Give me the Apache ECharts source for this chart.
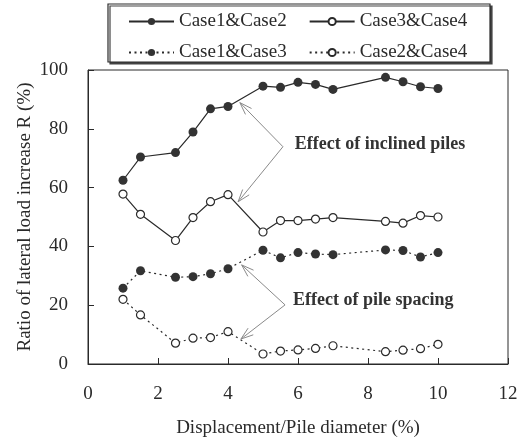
<!DOCTYPE html>
<html>
<head>
<meta charset="utf-8">
<script src="https://cdn.jsdelivr.net/npm/echarts@6/dist/echarts.min.js"></script>
<style>
  html, body { margin: 0; padding: 0; background: #fff; }
  #chart { width: 528px; height: 439px; }
</style>
</head>
<body>
<div id="chart"></div>
<script>
// Displacement / pile diameter (%)
const displacement = [1, 1.5, 2.5, 3, 3.5, 4, 5, 5.5, 6, 6.5, 7, 8.5, 9, 9.5, 10];

// Ratio of lateral load increase R (%)
const case1Case2 = [62.5, 70.4, 71.9, 78.9, 86.8, 87.6, 94.5, 94.1, 95.8, 95.1, 93.4, 97.5, 96.0, 94.3, 93.7];
const case3Case4 = [57.8, 50.9, 42.0, 49.8, 55.2, 57.6, 44.9, 48.8, 48.8, 49.3, 49.8, 48.5, 47.9, 50.5, 50.0];
const case1Case3 = [25.8, 31.7, 29.5, 29.7, 30.7, 32.4, 38.7, 36.1, 37.9, 37.4, 37.2, 38.8, 38.6, 36.4, 37.9];
const case2Case4 = [22.0, 16.7, 7.1, 8.8, 9.0, 11.0, 3.4, 4.4, 4.8, 5.3, 6.2, 4.2, 4.7, 5.2, 6.7];

const seriesNames = ['Case1&Case2', 'Case3&Case4', 'Case1&Case3', 'Case2&Case4'];
const xTicks = [0, 2, 4, 6, 8, 10, 12];
const yTicks = [0, 20, 40, 60, 80, 100];

const FONT = '"Liberation Serif", "Times New Roman", serif';
const INK = '#2a2a2a';

const chart = echarts.init(document.getElementById('chart'), null, { renderer: 'canvas' });

function pairs(ys) {
  return displacement.map((x, i) => [x, ys[i]]);
}

function makeSeries(name, ys, filled, dotted) {
  return {
    name: name,
    type: 'line',
    data: pairs(ys),
    symbol: 'circle',
    symbolSize: filled ? 9 : 8,
    showSymbol: true,
    lineStyle: { color: INK, width: 1.2, type: dotted ? [2, 3.5] : 'solid' },
    itemStyle: {
      color: filled ? '#333' : '#fff',
      borderColor: INK,
      borderWidth: filled ? 0 : 1.2
    },
    emphasis: { disabled: true },
    animation: false,
    z: 3
  };
}

const legendCommon = {
  left: 123,
  itemWidth: 45,
  itemHeight: 9,
  itemGap: 22,
  textStyle: { fontFamily: FONT, fontSize: 19, color: INK },
  selectedMode: false
};

chart.setOption({
  backgroundColor: '#fff',
  animation: false,
  grid: {
    left: 88, right: 20, top: 70, bottom: 75,
    outerBoundsMode: 'none',
    containLabel: false,
    show: true, borderColor: INK, borderWidth: 1
  },
  legend: [
    Object.assign({}, legendCommon, { top: 7, data: [seriesNames[0], seriesNames[1]] }),
    Object.assign({}, legendCommon, { top: 38, data: [seriesNames[2], seriesNames[3]] })
  ],
  xAxis: {
    type: 'value',
    min: xTicks[0],
    max: xTicks[xTicks.length - 1],
    interval: 2,
    name: 'Displacement/Pile diameter (%)',
    nameLocation: 'middle',
    nameGap: 55,
    nameMoveOverlap: false,
    nameTextStyle: { fontFamily: FONT, fontSize: 19, color: INK },
    axisLine: { lineStyle: { color: INK, width: 1 } },
    axisTick: { inside: true, length: 6, lineStyle: { color: INK } },
    axisLabel: { fontFamily: FONT, fontSize: 19, color: INK, margin: 21 },
    splitLine: { show: false }
  },
  yAxis: {
    type: 'value',
    min: yTicks[0],
    max: yTicks[yTicks.length - 1],
    interval: 20,
    name: 'Ratio of lateral load increase R (%)',
    nameLocation: 'middle',
    nameGap: 53,
    nameMoveOverlap: false,
    nameTextStyle: { fontFamily: FONT, fontSize: 19, color: INK },
    axisLine: { show: true, lineStyle: { color: INK, width: 1 } },
    axisTick: { show: true, inside: true, length: 6, lineStyle: { color: INK } },
    axisLabel: { fontFamily: FONT, fontSize: 19, color: INK, margin: 20 },
    splitLine: { show: false }
  },
  series: [
    makeSeries(seriesNames[0], case1Case2, true, false),
    makeSeries(seriesNames[1], case3Case4, false, false),
    makeSeries(seriesNames[2], case1Case3, true, true),
    makeSeries(seriesNames[3], case2Case4, false, true)
  ]
});

// Callout labels with arrows pointing at the curves, placed in data space
const callouts = [
  { text: 'Effect of inclined piles', at: [5.91, 74.6], from: [5.57, 73.9], tips: [[4.34, 88.9], [4.29, 55.2]] },
  { text: 'Effect of pile spacing', at: [5.86, 21.8], from: [5.63, 20.1], tips: [[4.39, 33.7], [4.37, 8.5]] }
];

function arrow(p0, p1) {
  const ang = Math.atan2(p1[1] - p0[1], p1[0] - p0[0]);
  const len = 13, spread = 0.33;
  const a1 = [p1[0] - len * Math.cos(ang - spread), p1[1] - len * Math.sin(ang - spread)];
  const a2 = [p1[0] - len * Math.cos(ang + spread), p1[1] - len * Math.sin(ang + spread)];
  const style = { stroke: '#8a8a8a', lineWidth: 1, fill: null };
  return [
    { type: 'line', shape: { x1: p0[0], y1: p0[1], x2: p1[0], y2: p1[1] }, style: style, z: 5 },
    { type: 'polyline', shape: { points: [a1, p1, a2] }, style: style, z: 5 }
  ];
}

const graphics = [];
// Legend frame
graphics.push({
  type: 'rect',
  shape: { x: 108, y: 4, width: 382, height: 58 },
  style: { fill: '#fff', stroke: INK, lineWidth: 1.2, shadowColor: '#444', shadowOffsetX: 2, shadowOffsetY: 2, shadowBlur: 0 },
  z: -1
});

callouts.forEach(c => {
  const pos = chart.convertToPixel({ gridIndex: 0 }, c.at);
  const from = chart.convertToPixel({ gridIndex: 0 }, c.from);
  graphics.push({
    type: 'text',
    x: pos[0], y: pos[1],
    style: {
      text: c.text, fontFamily: FONT, fontSize: 18, fontWeight: 'bold',
      fill: '#333', verticalAlign: 'middle', align: 'left'
    },
    z: 5
  });
  c.tips.forEach(t => {
    const tip = chart.convertToPixel({ gridIndex: 0 }, t);
    arrow(from, tip).forEach(g => graphics.push(g));
  });
});

chart.setOption({ graphic: graphics });
</script>
</body>
</html>
